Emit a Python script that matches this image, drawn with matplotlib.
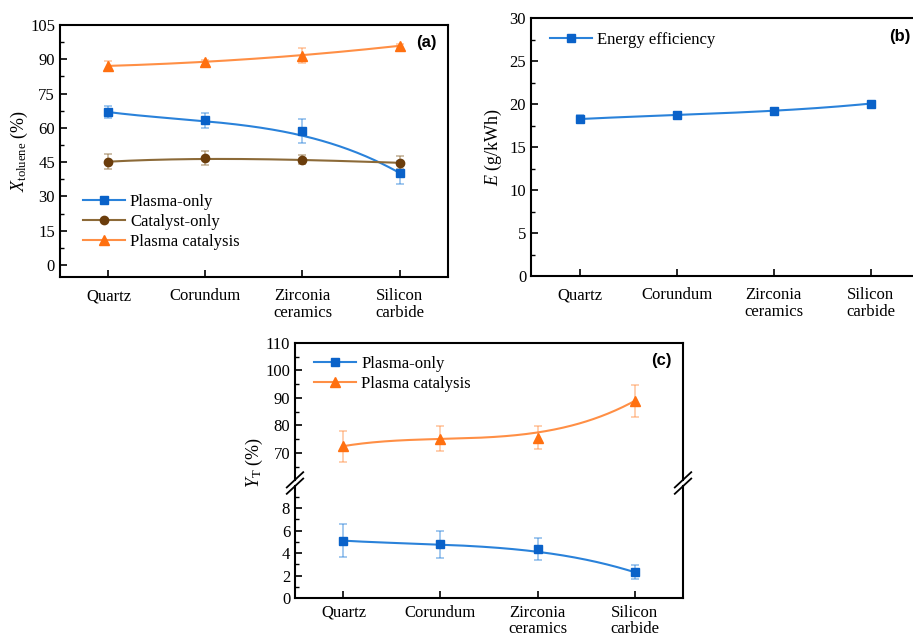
import numpy as np
import matplotlib.pyplot as plt

plt.rcParams['font.family'] = ['Liberation Serif', 'DejaVu Serif']
plt.rcParams['mathtext.fontset'] = 'custom'
plt.rcParams['mathtext.rm'] = 'Liberation Serif'
plt.rcParams['mathtext.it'] = 'Liberation Serif:italic'
plt.rcParams['font.size'] = 12

# ---- data ----
supports = ["Quartz", "Corundum", "Zirconia\nceramics", "Silicon\ncarbide"]

# (a) toluene conversion (%)
a_plasma = [66.9, 63.3, 58.6, 40.3]
a_plasma_err = [2.7, 3.4, 5.3, 5.0]
a_cat = [45.2, 46.7, 46.1, 44.7]
a_cat_err = [3.3, 3.0, 2.0, 2.8]
a_pc = [87.1, 88.7, 91.6, 95.9]
a_pc_err = [2.3, 1.2, 3.2, 0.8]

# (b) energy efficiency (g/kWh)
b_energy = [18.25, 18.72, 19.15, 20.05]
b_energy_err = [0.5, 0.3, 0.4, 0.2]

# (c) yield (%)
c_plasma = [5.1, 4.8, 4.35, 2.3]
c_plasma_err = [1.45, 1.2, 1.0, 0.6]
c_pc = [72.5, 75.2, 75.6, 88.9]
c_pc_err = [5.6, 4.5, 4.2, 5.7]

BLUE = '#0a62c9'
BLUE_L = '#2a82da'
BROWN = '#6b3d0c'
BROWN_L = '#8c6a38'
ORANGE = '#ff7010'
ORANGE_L = '#ff8f45'

x = np.arange(len(supports))
xs = np.linspace(0, len(supports) - 1, 200)


def smooth(y):
    # half interpolating cubic, half bezier (origin-like smoothed line)
    y = np.asarray(y, float)
    interp = np.polyval(np.polyfit(x, y, 3), xs)
    t = xs / xs[-1]
    n = len(y) - 1
    from math import comb
    bez = sum(comb(n, i) * t**i * (1 - t)**(n - i) * y[i] for i in range(n + 1))
    return 0.5 * (interp + bez)


def series(ax, y, err, mk, mc, lc, label, ms=6):
    ax.errorbar(x, y, yerr=err, fmt='none', ecolor=lc, alpha=0.5,
                elinewidth=1.2, capsize=3, capthick=1.2, zorder=2)
    ax.plot(xs, smooth(y), color=lc, lw=1.5, zorder=3)
    ax.plot(x, y, linestyle='none', marker=mk, ms=ms, color=mc, zorder=4)
    # legend proxy
    ax.plot([], [], color=lc, lw=1.5, marker=mk, ms=ms, mfc=mc, mec=mc, label=label)


def style(ax, bottom=True, pad=8, ls=1.1):
    ax.set_xlim(-0.5, 3.5)
    ax.tick_params(direction='in', length=5, width=1.2, top=False, right=False,
                   labelsize=12)
    ax.tick_params(which='minor', direction='in', length=3, width=1.0,
                   top=False, right=False)
    for s in ax.spines.values():
        s.set_linewidth(1.5)
    ax.set_xticks(x)
    if bottom:
        ax.set_xticklabels(supports, fontsize=12)
        for t in ax.get_xticklabels():
            t.set_linespacing(ls)
        ax.tick_params(axis='x', pad=pad)
    ax.xaxis.set_tick_params(which='minor', bottom=False)


fig = plt.figure(figsize=(9.13, 6.36), dpi=100)

# ---------- (a) ----------
ax1 = fig.add_axes([0.0657, 0.5645, 0.425, 0.3962])
series(ax1, a_plasma, a_plasma_err, 's', BLUE, BLUE_L, 'Plasma-only')
series(ax1, a_cat, a_cat_err, 'o', BROWN, BROWN_L, 'Catalyst-only')
series(ax1, a_pc, a_pc_err, '^', ORANGE, ORANGE_L, 'Plasma catalysis', ms=6.5)
ax1.set_ylim(-5.25, 105)
ax1.set_yticks(np.arange(0, 106, 15))
ax1.set_yticks(np.arange(7.5, 105, 15), minor=True)
style(ax1)
ax1.set_ylabel(r'$X_{\rm toluene}$ (%)', fontsize=13, labelpad=0)
ax1.legend(loc='lower left', bbox_to_anchor=(0.03, 0.06), frameon=False,
           fontsize=12, handlelength=2.5, borderpad=0.2, labelspacing=0.25,
           handletextpad=0.3)
ax1.text(0.97, 0.93, '(a)', transform=ax1.transAxes, ha='right', va='center',
         fontsize=12, fontweight='bold', family='Liberation Sans')

# ---------- (b) ----------
ax2 = fig.add_axes([0.5816, 0.566, 0.425, 0.4057])
series(ax2, b_energy, b_energy_err, 's', BLUE, BLUE_L, 'Energy efficiency')
ax2.set_ylim(0, 30)
ax2.set_yticks(np.arange(0, 31, 5))
ax2.set_yticks(np.arange(2.5, 30, 5), minor=True)
style(ax2)
ax2.set_ylabel(r'$E$ (g/kWh)', fontsize=13, labelpad=4)
ax2.legend(loc='upper left', bbox_to_anchor=(0.02, 0.99), frameon=False,
           fontsize=12, handlelength=2.5, borderpad=0.2, handletextpad=0.3)
ax2.text(0.978, 0.93, '(b)', transform=ax2.transAxes, ha='right', va='center',
         fontsize=12, fontweight='bold', family='Liberation Sans')

# ---------- (c) broken axis ----------
ax3t = fig.add_axes([0.3231, 0.2445, 0.425, 0.2162])
ax3b = fig.add_axes([0.3231, 0.0597, 0.425, 0.1769])

series(ax3t, c_plasma, c_plasma_err, 's', BLUE, BLUE_L, 'Plasma-only')
series(ax3t, c_pc, c_pc_err, '^', ORANGE, ORANGE_L, 'Plasma catalysis', ms=6.5)
series(ax3b, c_plasma, c_plasma_err, 's', BLUE, BLUE_L, '_')
series(ax3b, c_pc, c_pc_err, '^', ORANGE, ORANGE_L, '_', ms=6.5)

ax3t.set_ylim(60, 110)
ax3t.set_yticks([70, 80, 90, 100, 110])
ax3t.set_yticks([65, 75, 85, 95, 105], minor=True)
ax3b.set_ylim(0, 10)
ax3b.set_yticks([0, 2, 4, 6, 8])
ax3b.set_yticks([1, 3, 5, 7, 9], minor=True)
style(ax3t, bottom=False)
style(ax3b, pad=5, ls=1.0)
ax3t.spines['bottom'].set_visible(False)
ax3b.spines['top'].set_visible(False)
ax3t.tick_params(axis='x', which='both', bottom=False, labelbottom=False)

ax3t.legend(loc='upper left', bbox_to_anchor=(0.02, 0.99), frameon=False,
            fontsize=12, handlelength=2.5, borderpad=0.2, labelspacing=0.25,
            handletextpad=0.3)
ax3t.text(0.97, 0.87, '(c)', transform=ax3t.transAxes, ha='right', va='center',
          fontsize=12, fontweight='bold', family='Liberation Sans')
fig.text(0.279, 0.272, r'$Y_{\rm T}$ (%)', rotation=90, ha='center',
         va='center', fontsize=13)

# break marks
ybreak = 1 - 483 / 636
for xb in (0.3231, 0.3231 + 0.425):
    for dy in (-0.005, 0.005):
        fig.add_artist(plt.Line2D([xb - 0.009, xb + 0.009],
                                  [ybreak + dy - 0.012, ybreak + dy + 0.012],
                                  color='black', lw=1.3))

fig.savefig('out.png', dpi=100)
